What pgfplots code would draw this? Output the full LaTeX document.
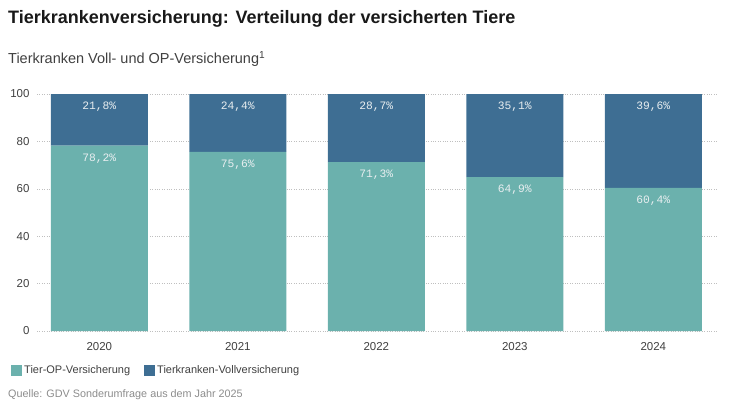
\documentclass[border=0pt]{standalone}
\usepackage{pgfplots}
\pgfplotsset{compat=1.18}
\usepackage{fontspec}
\setmainfont{Liberation Sans}
\newfontfamily\monofont{Liberation Mono}
\definecolor{opteal}{HTML}{6BB1AD}
\definecolor{vollblue}{HTML}{3E6E93}
\definecolor{labelwhite}{HTML}{E8EEF0}
\begin{document}
\begin{tikzpicture}[x=1pt,y=1pt]
\path[use as bounding box] (0,0) rectangle (735,413);
\node[anchor=west, inner sep=0pt, font=\bfseries\fontsize{18}{20}\selectfont, text=black!90] at (8,394) {Tierkrankenversicherung: Verteilung der versicherten Tiere};
\node[anchor=west, inner sep=0pt, font=\fontsize{14.5}{16}\selectfont, text=black!75] at (8,354) {Tierkranken Voll- und OP-Versicherung\textsuperscript{1}};
\node[anchor=west, inner sep=0pt, font=\fontsize{10.8}{12}\selectfont, text=black!45] at (8,18) {Quelle: GDV Sonderumfrage aus dem Jahr 2025};
\begin{axis}[
  at={(37pt,82pt)}, anchor=south west,
  width=680pt, height=237pt, scale only axis,
  ybar stacked, bar width=97pt,
  xmin=-0.45, xmax=4.46, ymin=0, ymax=100,
  axis line style={draw=none},
  ytick={0,20,...,100},
  ymajorgrids, grid style={dotted, black!25},
  major tick length=0pt,
  xtick={0,1,2,3,4},
  xticklabels={2020,2021,2022,2023,2024},
  /pgf/number format/assume math mode=true,
  tick label style={font=\fontsize{11.5}{13}\selectfont, text=black!75},
  yticklabel style={anchor=east, xshift=-4pt},
  xticklabel style={yshift=-8pt},
  point meta=explicit symbolic,
  visualization depends on={rawy \as \rawy},
  nodes near coords,
  nodes near coords style={font=\monofont\fontsize{11.3}{13}\selectfont, text=labelwhite, anchor=center, yshift=\rawy*1.185pt-13pt},
  legend style={at={(axis description cs:-0.0426,-0.1646)}, anchor=west, draw=none, fill=none,
    legend columns=-1, font=\fontsize{11}{13}\selectfont, text=black!75,
    /tikz/every even column/.append style={column sep=12pt}},
  legend image code/.code={\fill[#1] (0pt,-5.5pt) rectangle (11pt,5.5pt);},
]
\addplot[fill=opteal, draw=none] coordinates {(0,78.2) [78,2\%] (1,75.6) [75,6\%] (2,71.3) [71,3\%] (3,64.9) [64,9\%] (4,60.4) [60,4\%]};
\addplot[fill=vollblue, draw=none] coordinates {(0,21.8) [21,8\%] (1,24.4) [24,4\%] (2,28.7) [28,7\%] (3,35.1) [35,1\%] (4,39.6) [39,6\%]};
\legend{Tier-OP-Versicherung, Tierkranken-Vollversicherung}
\end{axis}
\end{tikzpicture}
\end{document}
